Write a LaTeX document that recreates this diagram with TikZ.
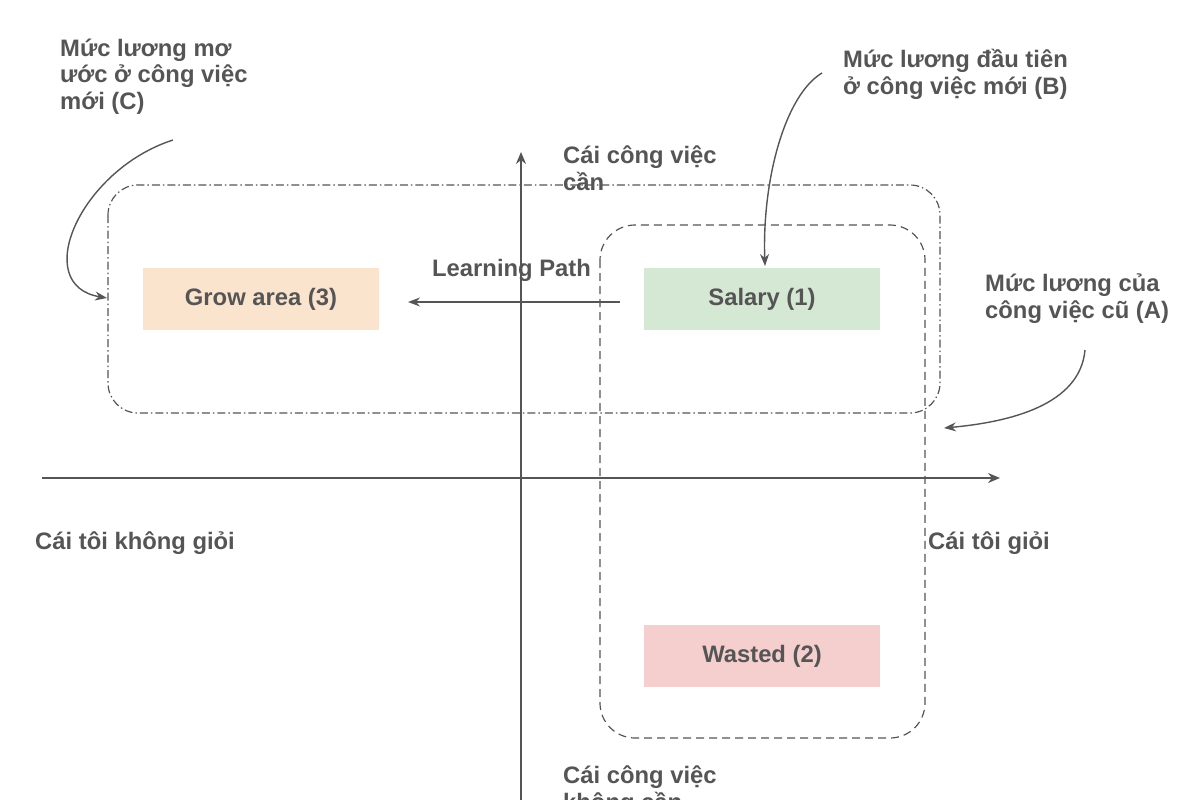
\documentclass[tikz,border=0pt]{standalone}
\usepackage{fontspec}
\setmainfont{Liberation Sans}
\usepackage{xcolor}
\usetikzlibrary{arrows.meta,positioning}
\definecolor{mygray}{RGB}{85,85,85}
\definecolor{mygreen}{RGB}{213,232,212}
\definecolor{mypeach}{RGB}{250,228,206}
\definecolor{mypink}{RGB}{245,206,206}

\begin{document}
\begin{tikzpicture}[x=1pt, y=-1pt,
    area/.style={minimum width=236pt, minimum height=62pt, inner sep=0pt, text=mygray},
    lbl/.style={align=left, anchor=base west, inner sep=0pt, text=mygray},
    axis/.style={draw=mygray, line width=1.8pt, -{Stealth[length=12pt,width=10pt]}},
    note/.style={draw=mygray, line width=1.4pt, -{Stealth[length=12pt,width=9pt]}},
    font=\fontsize{23.8}{27}\selectfont\bfseries,
]
    \useasboundingbox (0,0) rectangle (1200,800);
    \clip (0,0) rectangle (1200,800);

    % Axes
    \coordinate (xl) at (42,478);
    \coordinate (xr) at (1000,478);
    \coordinate (yb) at (521,800);
    \coordinate (yt) at (521,152);
    \draw[axis] (xl) -- (xr);
    \draw[axis] (yb) -- (yt);

    % Regions
    \draw[mygray, line width=1.2pt, dash pattern=on 8pt off 3pt on 1.5pt off 3pt, rounded corners=30pt]
        (108,185) rectangle (940,413);
    \draw[mygray, line width=1.2pt, dash pattern=on 8pt off 5pt, rounded corners=35pt]
        (600,225) rectangle (925,738);

    % Boxes
    \node[area, fill=mypeach] (grow) at (261,299) {Grow area (3)};
    \node[area, fill=mygreen] (salary) at (762,299) {Salary (1)};
    \node[area, fill=mypink] (wasted) at (762,656) {Wasted (2)};

    % Learning path
    \coordinate (lpstart) at (620,302);
    \coordinate (lpend) at (408,302);
    \draw[note] (lpstart) -- (lpend);
    \node[lbl] (lp) at (432,276) {Learning Path};

    % Axis labels (anchored at the last line's baseline)
    \node[lbl] (need) at (563,190) {Cái công việc\\cần};
    \node[lbl] (noneed) at (563,810) {Cái công việc\\không cần};
    \node[lbl] (bad) at (35,549) {Cái tôi không giỏi};
    \node[lbl] (good) at (928,549) {Cái tôi giỏi};

    % Notes
    \node[lbl] (noteC) at (60,110) {Mức lương mơ\\ước ở công việc\\mới (C)};
    \node[lbl] (noteB) at (843,95) {Mức lương đầu tiên\\ở công việc mới (B)};
    \node[lbl] (noteA) at (985,318) {Mức lương của\\công việc cũ (A)};

    \coordinate (cC) at (173,140);
    \coordinate (tC) at (107,298);
    \coordinate (cB) at (822,73);
    \coordinate (tB) at (765,266);
    \coordinate (cA) at (1085,350);
    \coordinate (tA) at (944,428);
    \draw[note] (cC) .. controls (80,170) and (30,285) .. (tC);
    \draw[note] (cB) .. controls (785,95) and (762,180) .. (tB);
    \draw[note] (cA) .. controls (1080,405) and (1010,422) .. (tA);
\end{tikzpicture}
\end{document}
